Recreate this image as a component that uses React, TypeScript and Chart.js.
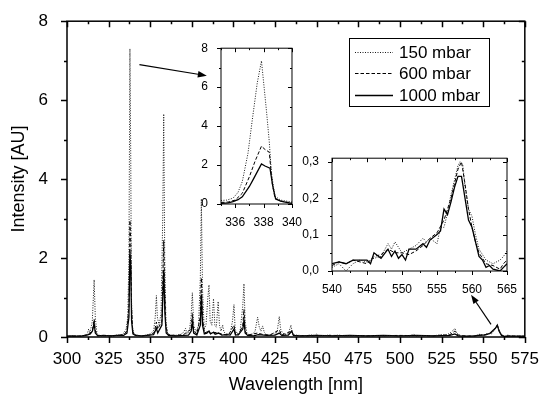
import React, { useEffect, useRef } from "react";
import { Chart, registerables } from "chart.js";
Chart.register(...registerables);

const FONT = "'Liberation Sans', Arial, Helvetica, sans-serif";

// ---------- data ----------
const seriesLabels = ["150 mbar", "600 mbar", "1000 mbar"];

const mainXTicks = [300, 325, 350, 375, 400, 425, 450, 475, 500, 525, 550, 575];
const mainYTicks = [0, 2, 4, 6, 8];
const inset1XTicks = [336, 338, 340];
const inset1YTicks = [0, 2, 4, 6, 8];
const inset2XTicks = [540, 545, 550, 555, 560, 565];
const inset2YTicks = [0, 0.1, 0.2, 0.3];

// [wavelength nm, intensity AU]
const main150: [number, number][] = [
  [300, 0.02], [305, 0.03], [308, 0.02], [310, 0.04], [312, 0.06], [313, 0.2], [313.8, 0.1], [315.2, 0.4], [316.3, 1.45], [317, 0.5], [318, 0.08],
  [320, 0.03], [325, 0.04], [328, 0.02], [330, 0.05], [333, 0.06], [334.5, 0.12], [335.5, 0.2], [336.5, 0.5], [337.2, 2.0], [337.8, 7.3], [338.3, 4.5],
  [338.7, 1.0], [339.3, 0.25], [340.2, 0.08], [342, 0.04], [345, 0.03], [348, 0.05], [350, 0.08], [352, 0.15], [353, 0.5], [353.7, 1.05], [354.3, 0.5],
  [355.3, 0.3], [356.5, 0.6], [357.5, 3.0], [358.1, 5.65], [358.7, 2.0], [359.4, 0.4], [360.4, 0.1], [362, 0.05], [365, 0.04], [368, 0.06], [370, 0.12],
  [371.2, 0.22], [372, 0.08], [373.5, 0.15], [374.5, 0.5], [375.3, 1.12], [376.1, 0.3], [377.5, 0.12], [379, 0.3], [380.1, 1.5], [380.7, 3.5], [381.4, 1.2],
  [382.4, 0.2], [383.5, 0.3], [384.6, 1.0], [385.3, 1.32], [386, 0.4], [387, 0.3], [388, 0.97], [388.8, 0.3], [389.7, 0.25], [390.8, 0.9], [391.6, 0.3],
  [392.5, 0.15], [393.5, 0.3], [394.3, 0.12], [396, 0.08], [398, 0.1], [399.4, 0.4], [400.3, 0.82], [401, 0.2], [402, 0.08], [404, 0.15], [405.6, 0.8],
  [406.3, 1.35], [407, 0.4], [408, 0.1], [409.5, 0.05], [411, 0.05], [413, 0.15], [414.5, 0.5], [415.5, 0.25], [416.5, 0.15], [417.5, 0.28], [418.5, 0.12],
  [420, 0.05], [422, 0.05], [424, 0.1], [425, 0.05], [426.3, 0.15], [427.5, 0.52], [428.3, 0.2], [429.5, 0.1], [431, 0.06], [433, 0.08], [434.5, 0.3],
  [435.5, 0.08], [437, 0.05], [440, 0.04], [443, 0.03], [446, 0.05], [449, 0.04], [450, 0.08], [451, 0.03], [455, 0.04], [458, 0.05], [460, 0.03],
  [463, 0.05], [466, 0.03], [470, 0.04], [474, 0.03], [478, 0.04], [482, 0.03], [486, 0.04], [490, 0.03], [494, 0.04], [498, 0.03], [502, 0.04],
  [506, 0.03], [508, 0.07], [510, 0.03], [515, 0.04], [520, 0.03], [525, 0.06], [528, 0.05], [530, 0.1], [531.5, 0.15], [533, 0.22], [534, 0.1],
  [536, 0.04], [540, 0.02], [545, 0.03], [548, 0.07], [550, 0.05], [553, 0.09], [555, 0.08], [556.5, 0.16], [558.3, 0.3], [559.5, 0.17], [561, 0.06],
  [563, 0.02], [565, 0.05], [567, 0.02], [570, 0.02], [575, 0.02],
];
const main600: [number, number][] = [
  [300, 0.02], [305, 0.02], [310, 0.03], [313, 0.08], [315.2, 0.15], [316.3, 0.45], [317, 0.15], [318.5, 0.04], [325, 0.03], [330, 0.04], [334, 0.06],
  [336, 0.15], [337.2, 0.8], [337.8, 2.95], [338.3, 2.4], [338.8, 0.7], [339.5, 0.15], [340.5, 0.05], [345, 0.03], [350, 0.05], [352.5, 0.12], [353.7, 0.38],
  [354.5, 0.2], [357, 0.4], [358.1, 2.45], [358.7, 1.2], [359.4, 0.25], [360.8, 0.06], [365, 0.04], [370, 0.06], [374.5, 0.2], [375.3, 0.6], [376.1, 0.15],
  [378, 0.08], [380, 0.5], [380.7, 1.5], [381.4, 0.5], [382.5, 0.1], [385.3, 0.15], [386.2, 0.08], [388, 0.12], [391, 0.1], [394, 0.06], [397, 0.05],
  [400.3, 0.3], [401.2, 0.06], [403, 0.05], [405.6, 0.3], [406.3, 0.7], [407, 0.15], [408.5, 0.05], [414.5, 0.1], [418, 0.06], [422, 0.05], [427.5, 0.18],
  [429, 0.05], [435, 0.15], [436, 0.04], [445, 0.03], [460, 0.04], [480, 0.03], [500, 0.04], [520, 0.03], [530, 0.06], [533, 0.15], [535, 0.05],
  [540, 0.02], [545, 0.03], [550, 0.05], [554, 0.09], [556.5, 0.17], [558.5, 0.3], [560, 0.12], [562, 0.02], [565, 0.03], [570, 0.02], [575, 0.02],
];
const main1000: [number, number][] = [
  [300, 0.02], [303, 0.03], [306, 0.02], [309, 0.03], [312, 0.05], [314, 0.08], [315.3, 0.15], [316.3, 0.35], [317, 0.1], [318.5, 0.03], [322, 0.04],
  [326, 0.03], [330, 0.04], [334, 0.04], [336, 0.1], [337.2, 0.5], [337.8, 2.15], [338.3, 1.8], [338.8, 0.4], [339.6, 0.08], [341, 0.04], [345, 0.03],
  [349, 0.05], [352, 0.06], [353, 0.15], [353.7, 0.22], [354.5, 0.1], [357, 0.3], [358.1, 1.7], [358.8, 0.6], [359.6, 0.1], [361, 0.04], [365, 0.03],
  [370, 0.04], [373, 0.05], [374.6, 0.15], [375.3, 0.38], [376.1, 0.1], [378, 0.05], [380.1, 0.3], [380.7, 1.08], [381.4, 0.3], [382.5, 0.08], [384, 0.1],
  [385.3, 0.15], [386.2, 0.08], [388, 0.12], [389, 0.07], [391, 0.1], [393, 0.05], [396, 0.06], [398, 0.05], [400.3, 0.2], [401.2, 0.05], [403, 0.06],
  [405.6, 0.2], [406.3, 0.42], [407, 0.1], [408.5, 0.04], [412, 0.03], [415, 0.06], [420, 0.04], [425, 0.05], [427.5, 0.1], [429, 0.04], [433, 0.05],
  [435, 0.15], [436, 0.04], [440, 0.03], [450, 0.04], [460, 0.03], [470, 0.04], [480, 0.03], [490, 0.04], [500, 0.03], [510, 0.04], [520, 0.03],
  [530, 0.04], [533, 0.08], [535, 0.03], [540, 0.02], [545, 0.03], [548, 0.05], [551, 0.05], [554, 0.09], [556, 0.17], [557.5, 0.23], [558.5, 0.3],
  [559.5, 0.15], [561, 0.04], [563, 0.01], [565, 0.02], [570, 0.02], [575, 0.02],
];

const inset1_150: [number, number][] = [
  [335, 0.18], [335.4, 0.2], [335.85, 0.3], [336.2, 0.6], [336.5, 1.15], [336.9, 2.6], [337.2, 4.3], [337.55, 6.2], [337.85, 7.35], [338.2, 4.8],
  [338.4, 3.2], [338.55, 1.6], [338.8, 0.4], [339.2, 0.2], [339.6, 0.15], [340, 0.1],
];
const inset1_600: [number, number][] = [
  [335, 0.08], [335.5, 0.1], [336, 0.2], [336.5, 0.55], [337, 1.4], [337.4, 2.2], [337.85, 2.97], [338.1, 2.8], [338.4, 2.66], [338.6, 1.1],
  [338.8, 0.3], [339.2, 0.15], [339.6, 0.1], [340, 0.05],
];
const inset1_1000: [number, number][] = [
  [335, 0.03], [335.5, 0.06], [335.85, 0.12], [336.2, 0.22], [336.5, 0.37], [337, 0.9], [337.3, 1.3], [337.85, 2.06], [338.1, 1.95], [338.45, 1.84],
  [338.65, 0.9], [338.85, 0.25], [339.2, 0.15], [339.6, 0.08], [340, 0.03],
];

const inset2_150: [number, number][] = [
  [540, 0.01], [541, 0.02], [542, 0.0], [543, 0.02], [544, 0.03], [545, 0.025], [546, 0.035], [547, 0.04], [548, 0.075], [548.5, 0.06], [549, 0.08],
  [550, 0.05], [551, 0.06], [552, 0.07], [553, 0.09], [553.5, 0.08], [554, 0.09], [555, 0.075], [555.5, 0.12], [556, 0.12], [556.5, 0.16], [557, 0.21],
  [557.5, 0.25], [558, 0.29], [558.3, 0.3], [558.7, 0.29], [559, 0.23], [559.5, 0.17], [560, 0.15], [560.5, 0.1], [561, 0.06], [562, 0.03], [563, 0.02],
  [564, 0.03], [564.5, 0.04], [565, 0.055],
];
const inset2_600: [number, number][] = [
  [540, 0.015], [541, 0.025], [542, 0.02], [543, 0.03], [544, 0.025], [545, 0.02], [546, 0.04], [547, 0.045], [548, 0.06], [549, 0.05], [550, 0.05],
  [551, 0.045], [552, 0.055], [553, 0.07], [554, 0.09], [555, 0.105], [556, 0.14], [556.5, 0.17], [557, 0.2], [557.5, 0.24], [558, 0.28], [558.5, 0.3],
  [559, 0.24], [559.5, 0.17], [560, 0.12], [560.5, 0.08], [561, 0.05], [562, 0.02], [563, 0.015], [564, 0.005], [564.5, 0.02], [565, 0.03],
];
const inset2_1000: [number, number][] = [
  [540, 0.02], [541, 0.025], [542, 0.02], [543, 0.03], [544, 0.03], [545, 0.03], [545.5, 0.02], [546, 0.05], [547, 0.035], [548, 0.06], [548.5, 0.04],
  [549, 0.055], [549.5, 0.035], [550, 0.045], [550.5, 0.03], [551, 0.06], [552, 0.06], [553, 0.075], [553.5, 0.065], [554, 0.085], [555, 0.1],
  [555.5, 0.11], [556, 0.17], [556.5, 0.155], [557, 0.19], [557.5, 0.23], [558, 0.26], [558.5, 0.26], [559, 0.2], [559.5, 0.14], [560, 0.12],
  [560.5, 0.08], [561, 0.04], [561.5, 0.03], [562, 0.01], [562.5, 0.015], [563, 0.005], [564, 0.0], [564.5, 0.01], [565, 0.02],
];

// arrows in main-chart data coordinates: [from, to]
const arrowFrom: [number, number][] = [[343.5, 6.9], [554.7, 0.32]];
const arrowTo: [number, number][] = [[384, 6.62], [542.7, 1.07]];

// ---------- styles ----------
const STYLES = [
  { color: "#1a1a1a", dash: [1, 1.5], width: 1 },
  { color: "#000", dash: [3.5, 2], width: 1 },
  { color: "#000", dash: [] as number[], width: 1.3 },
];

function datasets(series: [number, number][][]) {
  return series.map((s, i) => ({
    label: seriesLabels[i],
    data: s.map(([x, y]) => ({ x, y })),
    borderColor: STYLES[i].color,
    borderDash: STYLES[i].dash,
    borderWidth: STYLES[i].width,
    pointRadius: 0,
    tension: 0,
    fill: false,
  }));
}

function minorsOf(maj: number[], min: number, max: number) {
  if (maj.length < 2) return [];
  const step = maj[1] - maj[0];
  const out: number[] = [];
  const eps = 1e-9;
  maj.forEach((v) => {
    [v - step / 2, v + step / 2].forEach((m) => {
      if (m >= min - eps && m <= max + eps && !out.some((o) => Math.abs(o - m) < eps)) out.push(m);
    });
  });
  return out;
}

type FrameCfg = {
  lw: number;
  maj: number;
  min: number;
  fill?: boolean;
  extra?: (chart: any) => void;
};

function framePlugin(cfg: FrameCfg) {
  return {
    id: "frame",
    beforeDatasetsDraw(chart: any) {
      if (!cfg.fill) return;
      const { ctx, chartArea } = chart;
      ctx.save();
      ctx.fillStyle = "#fff";
      ctx.fillRect(chartArea.left, chartArea.top, chartArea.right - chartArea.left, chartArea.bottom - chartArea.top);
      ctx.restore();
    },
    afterDatasetsDraw(chart: any) {
      const { ctx, chartArea } = chart;
      const { left, top, right, bottom } = chartArea;
      const xs = chart.scales.x;
      const ys = chart.scales.y;
      ctx.save();
      ctx.setLineDash([]);
      ctx.strokeStyle = "#000";
      ctx.lineWidth = cfg.lw;
      ctx.strokeRect(left, top, right - left, bottom - top);
      const xMaj = xs.ticks.map((t: any) => t.value);
      const yMaj = ys.ticks.map((t: any) => t.value);
      const xMin = minorsOf(xMaj, xs.min, xs.max);
      const yMin = minorsOf(yMaj, ys.min, ys.max);
      ctx.beginPath();
      const xt = (vals: number[], len: number) =>
        vals.forEach((v) => {
          const p = Math.round(xs.getPixelForValue(v)) + 0.5;
          ctx.moveTo(p, bottom);
          ctx.lineTo(p, bottom + len); // outward
          ctx.moveTo(p, top);
          ctx.lineTo(p, top + len); // inward
        });
      const yt = (vals: number[], len: number) =>
        vals.forEach((v) => {
          const p = Math.round(ys.getPixelForValue(v)) + 0.5;
          ctx.moveTo(left, p);
          ctx.lineTo(left - len, p); // outward
          ctx.moveTo(right, p);
          ctx.lineTo(right - len, p); // inward
        });
      xt(xMaj, cfg.maj);
      xt(xMin, cfg.min);
      yt(yMaj, cfg.maj);
      yt(yMin, cfg.min);
      ctx.stroke();
      ctx.restore();
      if (cfg.extra) cfg.extra(chart);
    },
  };
}

function axis(min: number, max: number, ticks: number[], o: any) {
  return {
    type: "linear",
    min,
    max,
    afterBuildTicks: (s: any) => {
      s.ticks = ticks.map((v) => ({ value: v }));
    },
    grid: { display: false },
    border: { display: false },
    ticks: {
      color: "#000",
      font: { family: FONT, size: o.size },
      padding: o.pad,
      maxRotation: 0,
      autoSkip: false,
      callback: o.fmt || ((v: number) => String(v)),
    },
    title: o.title
      ? { display: true, text: o.title, color: "#000", font: { family: FONT, size: 18 }, padding: o.titlePad }
      : { display: false },
    afterFit: (s: any) => {
      if (s.isHorizontal()) s.height = o.extent;
      else s.width = o.extent;
    },
  };
}

function drawArrows(chart: any) {
  const { ctx } = chart;
  const xs = chart.scales.x;
  const ys = chart.scales.y;
  ctx.save();
  ctx.setLineDash([]);
  ctx.strokeStyle = "#000";
  ctx.fillStyle = "#000";
  ctx.lineWidth = 1.2;
  arrowFrom.forEach((f, i) => {
    const t = arrowTo[i];
    const x1 = xs.getPixelForValue(f[0]);
    const y1 = ys.getPixelForValue(f[1]);
    const x2 = xs.getPixelForValue(t[0]);
    const y2 = ys.getPixelForValue(t[1]);
    const ang = Math.atan2(y2 - y1, x2 - x1);
    const hl = 9;
    const hw = 3.2;
    const bx = x2 - hl * Math.cos(ang);
    const by = y2 - hl * Math.sin(ang);
    ctx.beginPath();
    ctx.moveTo(x1, y1);
    ctx.lineTo(bx, by);
    ctx.stroke();
    ctx.beginPath();
    ctx.moveTo(x2, y2);
    ctx.lineTo(bx + hw * Math.sin(ang), by - hw * Math.cos(ang));
    ctx.lineTo(bx - hw * Math.sin(ang), by + hw * Math.cos(ang));
    ctx.closePath();
    ctx.fill();
  });
  ctx.restore();
}

// legend placement (pixels in main canvas)
const LEG = { x: 349, y: 38, w: 140, h: 68, lineX0: 355, lineX1: 393, textX: 399, rows: [52, 73, 95] };

function drawLegend(chart: any) {
  const { ctx } = chart;
  ctx.save();
  ctx.fillStyle = "#fff";
  ctx.fillRect(LEG.x, LEG.y, LEG.w, LEG.h);
  ctx.setLineDash([]);
  ctx.strokeStyle = "#000";
  ctx.lineWidth = 1;
  ctx.strokeRect(LEG.x + 0.5, LEG.y + 0.5, LEG.w, LEG.h);
  seriesLabels.forEach((lab, i) => {
    const y = LEG.rows[i];
    ctx.beginPath();
    ctx.setLineDash(STYLES[i].dash);
    ctx.strokeStyle = STYLES[i].color;
    ctx.lineWidth = STYLES[i].width;
    ctx.moveTo(LEG.lineX0, y + 0.5);
    ctx.lineTo(LEG.lineX1, y + 0.5);
    ctx.stroke();
    ctx.setLineDash([]);
    ctx.fillStyle = "#000";
    ctx.font = `17px ${FONT}`;
    ctx.textBaseline = "middle";
    ctx.textAlign = "left";
    ctx.fillText(lab, LEG.textX, y + 1);
  });
  ctx.restore();
}

function buildMain(canvas: HTMLCanvasElement) {
  return new Chart(canvas, {
    type: "line",
    data: { datasets: datasets([main150, main600, main1000]) as any },
    options: {
      animation: false,
      responsive: false,
      devicePixelRatio: 1,
      events: [],
      layout: { padding: { top: 16, right: 17, left: 0, bottom: 0 } },
      plugins: { legend: { display: false }, tooltip: { enabled: false } },
      scales: {
        x: axis(300, 575, mainXTicks, { size: 17, pad: 4, extent: 59, title: "Wavelength [nm]", titlePad: { top: 0, bottom: 0 } }),
        y: axis(0, 8, mainYTicks, { size: 17, pad: 11, extent: 67, title: "Intensity [AU]", titlePad: { top: 8, bottom: 0 } }),
      } as any,
    },
    plugins: [
      framePlugin({
        lw: 1.5,
        maj: 6,
        min: 3,
        extra: (c) => {
          drawArrows(c);
          drawLegend(c);
        },
      }),
    ],
  });
}

function buildInset(
  canvas: HTMLCanvasElement,
  series: [number, number][][],
  xr: [number, number],
  yr: [number, number],
  xt: number[],
  yt: number[],
  pad: any,
  ext: [number, number],
  fmt?: (v: number) => string
) {
  return new Chart(canvas, {
    type: "line",
    data: { datasets: datasets(series) as any },
    options: {
      animation: false,
      responsive: false,
      devicePixelRatio: 1,
      events: [],
      layout: { padding: pad },
      plugins: { legend: { display: false }, tooltip: { enabled: false } },
      scales: {
        x: axis(xr[0], xr[1], xt, { size: 12, pad: 3, extent: ext[0] }),
        y: axis(yr[0], yr[1], yt, { size: 12, pad: 5, extent: ext[1], fmt }),
      } as any,
    },
    plugins: [framePlugin({ lw: 1, maj: 4, min: 2, fill: true })],
  });
}

function ChartCanvas(props: { build: (c: HTMLCanvasElement) => Chart; left: number; top: number; w: number; h: number }) {
  const ref = useRef<HTMLCanvasElement>(null);
  useEffect(() => {
    const chart = props.build(ref.current as HTMLCanvasElement);
    return () => chart.destroy();
  }, []);
  return (
    <canvas
      ref={ref}
      width={props.w}
      height={props.h}
      style={{ position: "absolute", left: props.left, top: props.top, width: props.w, height: props.h }}
    />
  );
}

export default function App() {
  return (
    <div style={{ position: "absolute", left: 0, top: 0, width: 543, height: 396, background: "#fff", overflow: "hidden" }}>
      <ChartCanvas build={buildMain} left={0} top={0} w={543} h={396} />
      <ChartCanvas
        build={(c) =>
          buildInset(c, [inset1_150, inset1_600, inset1_1000], [335, 340], [0, 8], inset1XTicks, inset1YTicks,
            { top: 10, right: 8, left: 0, bottom: 0 }, [22, 26])
        }
        left={195}
        top={36}
        w={110}
        h={190}
      />
      <ChartCanvas
        build={(c) =>
          buildInset(c, [inset2_150, inset2_600, inset2_1000], [540, 565], [0, 0.31], inset2XTicks, inset2YTicks,
            { top: 10, right: 18, left: 0, bottom: 0 }, [25, 32], (v: number) => v.toFixed(1).replace(".", ","))
        }
        left={300}
        top={146}
        w={225}
        h={150}
      />
    </div>
  );
}
